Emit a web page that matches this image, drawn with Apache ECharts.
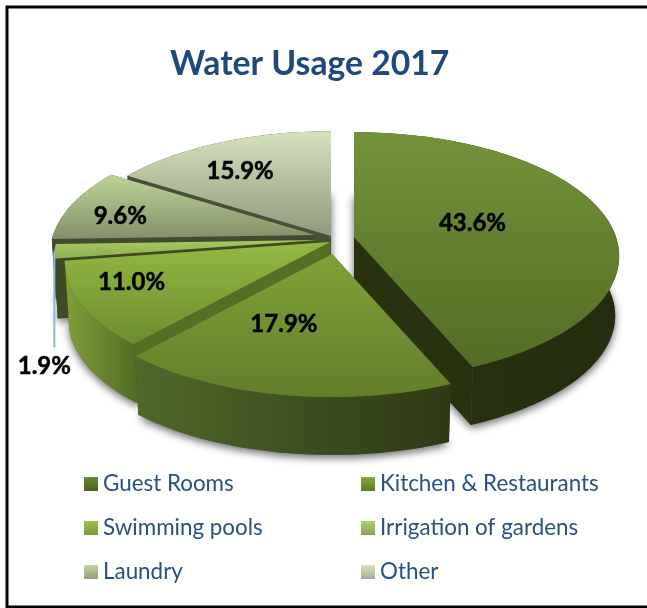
<!DOCTYPE html>
<html>
<head>
<meta charset="utf-8">
<style>html,body{margin:0;padding:0;background:#fff}#chart{width:647px;height:608px}</style>
<script src="https://cdn.jsdelivr.net/npm/echarts@6/dist/echarts.min.js"></script>
</head>
<body>
<div id="chart"></div>
<script>
// Water usage shares, percent
const categories = ['Guest Rooms', 'Kitchen & Restaurants', 'Swimming pools', 'Irrigation of gardens', 'Laundry', 'Other'];
const shares = [43.6, 17.9, 11.0, 1.9, 9.6, 15.9];

// Slices are painted back to front so nearer walls cover farther ones
const paintOrder = [5, 0, 4, 3, 2, 1];

// Tilted disc with a slight perspective: k is the foreshortening towards the viewer
const disc = { cx: 331, cy: 238, rx: 262, ry: 121, k: 0.154, depth: 60, taper: 0.015 };

const sliceStyles = [
  { explode: [23, -1], top: ['#73933a', '#546c25'], wall: ['#2a3511', '#232d0f'], cut: '#28320f', legend: ['#6a8a35', '#4c6320'], nudge: [-8, -2] },
  { explode: [1, 16], top: ['#7fa238', '#637e2b'], wall: ['#50682a', '#2e3914'], cut: '#3a4a1a', legend: ['#8aab3b', '#5f7a2a'], nudge: [-25, 6] },
  { explode: [-1, 4], top: ['#94b943', '#6d8d30'], wall: ['#809f39', '#536c25'], cut: '#566f27', legend: ['#9cc04a', '#7a9a35'], nudge: [-79, 10] },
  { explode: [-12, 2], top: ['#a8c765', '#8fae4e'], wall: ['#3d4a22', '#3d4a22'], cut: '#3d4a22', legend: ['#aece6a', '#8a9f5e'], nudge: [-10, 115] },
  { explode: [-16, -3], top: ['#bdd595', '#848f6a'], wall: ['#424a30', '#424a30'], cut: '#424a30', legend: ['#c2d69b', '#949c80'], nudge: [-71, -3] },
  { explode: [0, -2], top: ['#d6e1bd', '#8f9a7c'], wall: ['#4a4f38', '#4a4f38'], cut: '#4a4f38', legend: ['#d7e3bc', '#a8ad98'], nudge: [-32, -15] }
];

const FONT = 'Lato, "Open Sans", sans-serif';
const DEG = Math.PI / 180;
const total = shares.reduce((a, b) => a + b, 0);

// Start and end angle of each slice, clockwise from twelve o'clock
const sliceAngles = [];
shares.reduce((start, v) => {
  const end = start + v / total * 360;
  sliceAngles.push([start, end]);
  return end;
}, 0);

function project(deg, r, z, off) {
  const u = Math.sin(deg * DEG) * r, v = -Math.cos(deg * DEG) * r;
  const s = 1 / (1 - disc.k * v) * (1 - disc.taper * z);
  return [disc.cx + off[0] + disc.rx * u * s, disc.cy + off[1] + disc.ry * v * s + disc.depth * z];
}

function arcPoints(a0, a1, z, off) {
  const steps = Math.max(2, Math.ceil((a1 - a0) / 1.5));
  const pts = [];
  for (let i = 0; i <= steps; i++) pts.push(project(a0 + (a1 - a0) * i / steps, 1, z, off));
  return pts;
}

function linear(colors, horizontal) {
  return {
    type: 'linear', x: 0, y: 0, x2: horizontal ? 1 : 0, y2: horizontal ? 0 : 1,
    colorStops: [{ offset: 0, color: colors[0] }, { offset: 1, color: colors[1] }]
  };
}

// Soft drop shadow under the base of every slice
function renderShadows() {
  return {
    type: 'group',
    children: shares.map((v, i) => {
      const off = sliceStyles[i].explode, a = sliceAngles[i];
      return {
        type: 'polygon',
        shape: { points: [project(0, 0, 1, off)].concat(arcPoints(a[0], a[1], 1, off)) },
        style: { fill: '#555', shadowBlur: 9, shadowColor: 'rgba(0,0,0,0.6)', shadowOffsetY: 3 }
      };
    })
  };
}

function renderSlice(i) {
  const st = sliceStyles[i], off = st.explode, a = sliceAngles[i];
  const apexTop = project(0, 0, 0, off), apexBase = project(0, 0, 1, off);
  const children = [];
  [a[0], a[1]].forEach(edge => {
    children.push({
      type: 'polygon',
      shape: { points: [apexTop, project(edge, 1, 0, off), project(edge, 1, 1, off), apexBase] },
      style: { fill: st.cut }
    });
  });
  children.push({
    type: 'polygon',
    shape: { points: arcPoints(a[0], a[1], 0, off).concat(arcPoints(a[0], a[1], 1, off).reverse()) },
    style: { fill: linear(st.wall, true) }
  });
  children.push({
    type: 'polygon',
    shape: { points: [apexTop].concat(arcPoints(a[0], a[1], 0, off)) },
    style: { fill: linear(st.top, false) }
  });

  const mid = (a[0] + a[1]) / 2;
  const outside = shares[i] < 5;
  const anchor = project(mid, outside ? 1 : 0.5, 0, off);
  if (outside) {
    children.push({
      type: 'line',
      shape: { x1: anchor[0], y1: anchor[1], x2: anchor[0], y2: anchor[1] + 96 },
      style: { stroke: '#8db4e2', lineWidth: 2 }
    });
  }
  children.push({
    type: 'text',
    style: {
      text: shares[i].toFixed(1) + '%',
      x: anchor[0] + st.nudge[0], y: anchor[1] + st.nudge[1],
      fill: '#000', stroke: '#000', lineWidth: 0.5,
      font: 'bold 24px ' + FONT, align: 'center', verticalAlign: 'middle'
    }
  });
  return { type: 'group', children };
}

const legendBase = {
  orient: 'vertical', icon: 'rect', itemWidth: 14, itemHeight: 14, itemGap: 22,
  selectedMode: false, top: 468,
  textStyle: { color: '#2a5082', fontFamily: FONT, fontSize: 22.4, padding: [0, 0, 0, 0] }
};

const option = {
  animation: false,
  backgroundColor: '#fff',
  title: {
    text: 'Water Usage 2017', left: 165, top: 42,
    textStyle: { color: '#1f497d', fontFamily: FONT, fontWeight: 'bold', fontSize: 33.7 }
  },
  legend: [
    Object.assign({}, legendBase, { left: 79, data: categories.filter((c, i) => i % 2 === 0) }),
    Object.assign({}, legendBase, { left: 356, data: categories.filter((c, i) => i % 2 === 1) })
  ],
  // Frame runs off the right edge of the page
  graphic: [{
    type: 'rect', silent: true, z: 100,
    shape: { x: 7, y: 7, width: 660, height: 600 },
    style: { fill: 'none', stroke: '#000', lineWidth: 3 }
  }],
  series: [{
    type: 'custom', name: 'base shadow', coordinateSystem: 'none', silent: true,
    data: [0], renderItem: renderShadows
  }].concat(paintOrder.map(i => ({
    type: 'custom', name: categories[i], coordinateSystem: 'none', silent: true,
    itemStyle: { color: linear(sliceStyles[i].legend, false) },
    data: [shares[i]],
    renderItem: () => renderSlice(i)
  })))
};

echarts.init(document.getElementById('chart')).setOption(option);
</script>
</body>
</html>
